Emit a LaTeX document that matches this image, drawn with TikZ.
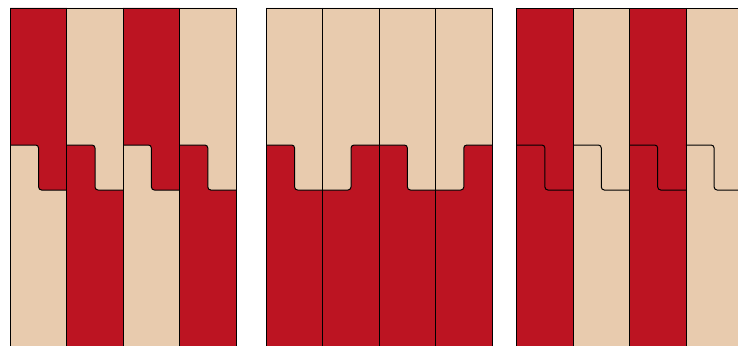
\documentclass[tikz,border=0pt]{standalone}
\usepackage{xcolor}
\usepackage{tikz}
\usetikzlibrary{calc}
\definecolor{tilered}{RGB}{188, 20, 34}
\definecolor{tilesand}{RGB}{232, 203, 174}
\tikzset{
    bordo/.style={draw=black, line width=0.8pt},
    gradino/.style={draw=black, line width=1pt, rounded corners=3pt},
}

\begin{document}
\begin{tikzpicture}[x=1pt, y=-1pt]
        \useasboundingbox (0,0) rectangle (738,345);
        \clip (0,0) rectangle (738,345);
        \def\w{56.4}

        % Pannello 1: colori scambiati sotto il gradino
        \begin{scope}[xshift=10.4pt]
            \foreach \i/\su/\giu in {0/tilered/tilesand, 1/tilesand/tilered, 2/tilered/tilesand, 3/tilesand/tilered} {
                \fill[\giu] (\i*\w,8) rectangle ({(\i+1)*\w},350);
                \fill[\su] (\i*\w,8) -- ({(\i+1)*\w},8) -- ({(\i+1)*\w},190) [rounded corners=3pt] -- ({(\i+.5)*\w},190) -- ({(\i+.5)*\w},145) [sharp corners] -- (\i*\w,145) -- cycle;
                \draw[gradino] (\i*\w,145) -- ({(\i+.5)*\w},145) -- ({(\i+.5)*\w},190) -- ({(\i+1)*\w},190);
            }
            \foreach \i in {0,...,4} \draw[bordo] (\i*\w,8) -- (\i*\w,350);
            \draw[bordo] (0,8) -- (4*\w,8);
        \end{scope}

        % Pannello 2: gradini alternati, sopra chiaro e sotto rosso
        \begin{scope}[xshift=266.4pt]
            \foreach \i/\a/\b in {0/145/190, 1/190/145, 2/145/190, 3/190/145} {
                \fill[tilered] (\i*\w,8) rectangle ({(\i+1)*\w},350);
                \fill[tilesand] (\i*\w,8) -- ({(\i+1)*\w},8) -- ({(\i+1)*\w},\b) [rounded corners=3pt] -- ({(\i+.5)*\w},\b) -- ({(\i+.5)*\w},\a) [sharp corners] -- (\i*\w,\a) -- cycle;
                \draw[gradino] (\i*\w,\a) -- ({(\i+.5)*\w},\a) -- ({(\i+.5)*\w},\b) -- ({(\i+1)*\w},\b);
            }
            \foreach \i in {0,...,4} \draw[bordo] (\i*\w,8) -- (\i*\w,350);
            \draw[bordo] (0,8) -- (4*\w,8);
        \end{scope}

        % Pannello 3: stesso colore sopra e sotto, solo la linea del gradino
        \begin{scope}[xshift=516.7pt]
            \foreach \i/\col in {0/tilered, 1/tilesand, 2/tilered, 3/tilesand} {
                \fill[\col] (\i*\w,8) rectangle ({(\i+1)*\w},350);
                \draw[gradino] (\i*\w,145) -- ({(\i+.5)*\w},145) -- ({(\i+.5)*\w},190) -- ({(\i+1)*\w},190);
            }
            \foreach \i in {0,...,4} \draw[bordo] (\i*\w,8) -- (\i*\w,350);
            \draw[bordo] (0,8) -- (4*\w,8);
        \end{scope}
    \end{tikzpicture}
\end{document}
